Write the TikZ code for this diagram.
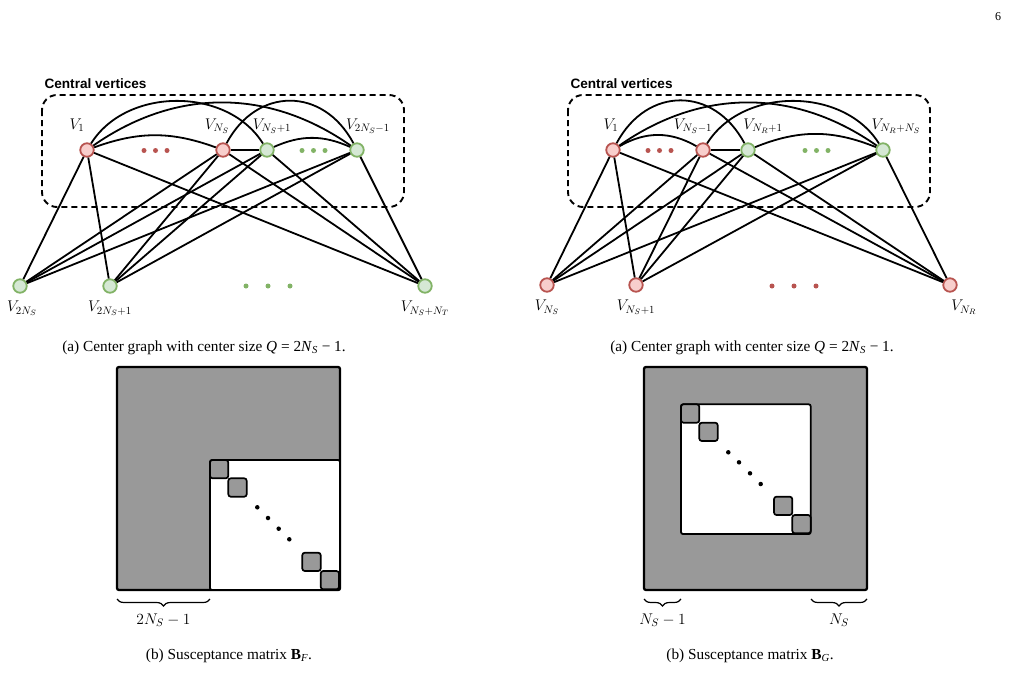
\RequirePackage{fix-cm}
\documentclass[tikz,border=0pt]{standalone}
\usepackage{amsmath}
\usepackage{amssymb}
\usepackage[no-math]{fontspec}
\newfontfamily\capfont{Liberation Serif}
\newfontfamily\boxfont{Liberation Sans}
\usepackage{xcolor}
\usepackage{tikz}
\usetikzlibrary{positioning, decorations.pathreplacing, calc}

\definecolor{redfill}{HTML}{F8CECC}
\definecolor{redline}{HTML}{B85450}
\definecolor{greenfill}{HTML}{D5E8D4}
\definecolor{greenline}{HTML}{82B366}

\begin{document}
\begin{tikzpicture}[
    x=1pt, y=-1pt,
    font=\fontsize{15.5}{18}\selectfont,
    redv/.style={circle, draw=redline, fill=redfill, line width=1.8pt, minimum size=13.5pt, inner sep=0pt},
    greenv/.style={circle, draw=greenline, fill=greenfill, line width=1.8pt, minimum size=13.5pt, inner sep=0pt},
    lab/.style={inner sep=1pt, text height=11pt, text depth=4pt},
    edge/.style={line width=1.8pt},
    reddot/.style={circle, fill=redline, inner sep=0pt, minimum size=5pt},
    greendot/.style={circle, fill=greenline, inner sep=0pt, minimum size=5pt},
    hull/.style={line width=1.9pt, dash pattern=on 6pt off 4pt, rounded corners=15pt},
    hulltitle/.style={font=\boxfont\bfseries\fontsize{13.6}{15}\selectfont},
    matrixbox/.style={draw, line width=2.3pt, fill=black!40, rounded corners=2pt},
    whitebox/.style={draw, line width=1.8pt, fill=white, rounded corners=2pt},
    block/.style={draw, line width=1.7pt, fill=black!40, rounded corners=2.5pt},
    mdot/.style={circle, fill=black, inner sep=0pt, minimum size=4.5pt},
    brace/.style={decorate, decoration={brace, mirror, amplitude=7pt}, line width=1.2pt},
    caption/.style={font=\capfont\fontsize{15.3}{18}\selectfont}
]
\useasboundingbox (0,0) rectangle (1009,672);

\node[font=\capfont\fontsize{12}{14}\selectfont] (page) at (998,17) {6};

% ---------------- Left graph ----------------
\draw[hull] (42,95) rectangle (404,207);
\node[hulltitle, anchor=west] (ltitle) at (41,84) {Central vertices};

% Nodes
\node[redv]   (a1) at (87,150)  {};
\node[redv]   (a2) at (223,150) {};
\node[greenv] (a3) at (267,150) {};
\node[greenv] (a4) at (357,150) {};
\node[greenv] (b1) at (20,286)  {};
\node[greenv] (b2) at (110,286) {};
\node[greenv] (b3) at (425,286) {};

\node[lab, above=8pt of a1, xshift=-10pt] (la1) {$V_1$};
\node[lab, above=8pt of a2, xshift=-6pt]  (la2) {$V_{N_S}$};
\node[lab, above=8pt of a3, xshift=5pt]   (la3) {$V_{N_S+1}$};
\node[lab, above=8pt of a4, xshift=11pt]  (la4) {$V_{2N_S-1}$};
\node[lab, below=6pt of b1, xshift=2pt] (lb1) {$V_{2N_S}$};
\node[lab, below=6pt of b2] (lb2) {$V_{2N_S+1}$};
\node[lab, below=6pt of b3] (lb3) {$V_{N_S+N_T}$};

% dots
\foreach \x in {144,155.5,167} \node[reddot] at (\x,150.5) {};
\foreach \x in {302,313.5,325} \node[greendot] at (\x,150.5) {};
\foreach \x in {246,268,290} \node[greendot] at (\x,286) {};

% Edges among central vertices
\draw[edge] (a1) to[bend left=20] (a2);
\draw[edge] (a1) to[bend left=58] (a3);
\draw[edge] (a1) to[bend left=35] (a4);
\draw[edge] (a2) -- (a3);
\draw[edge] (a2) to[bend left=62, looseness=1.3] (a4);
\draw[edge] (a3) to[bend left=24] (a4);

% Edges to outer vertices
\foreach \b in {b1,b2,b3}
  \foreach \t in {a1,a2,a3,a4}
    \draw[edge] (\b) -- (\t);

% ---------------- Right graph ----------------
\draw[hull] (568,95) rectangle (930,207);
\node[hulltitle, anchor=west] (rtitle) at (567,84) {Central vertices};

\node[redv]   (c1) at (613,150) {};
\node[redv]   (c2) at (703,150) {};
\node[greenv] (c3) at (748,150) {};
\node[greenv] (c4) at (883,150) {};
\node[redv]   (d1) at (547,285) {};
\node[redv]   (d2) at (636,285) {};
\node[redv]   (d3) at (950,285) {};

\node[lab, above=8pt of c1, xshift=-2pt]  (lc1) {$V_1$};
\node[lab, above=8pt of c2, xshift=-10pt] (lc2) {$V_{N_S-1}$};
\node[lab, above=8pt of c3, xshift=15pt]  (lc3) {$V_{N_R+1}$};
\node[lab, above=8pt of c4, xshift=13pt]  (lc4) {$V_{N_R+N_S}$};
\node[lab, below=6pt of d1] (ld1) {$V_{N_S}$};
\node[lab, below=6pt of d2] (ld2) {$V_{N_S+1}$};
\node[lab, below=6pt of d3, xshift=14pt] (ld3) {$V_{N_R}$};

\foreach \x in {648,659.5,671} \node[reddot] at (\x,150.5) {};
\foreach \x in {805,816.5,828} \node[greendot] at (\x,150.5) {};
\foreach \x in {772,794,816} \node[reddot] at (\x,286) {};

\draw[edge] (c1) to[bend left=30] (c2);
\draw[edge] (c1) to[bend left=62, looseness=1.3] (c3);
\draw[edge] (c1) to[bend left=35] (c4);
\draw[edge] (c2) -- (c3);
\draw[edge] (c2) to[bend left=58] (c4);
\draw[edge] (c3) to[bend left=22] (c4);

\foreach \b in {d1,d2,d3}
  \foreach \t in {c1,c2,c3,c4}
    \draw[edge] (\b) -- (\t);

% Captions (a)
\node[caption] (capa1) at (204,348) {(a) Center graph with center size \textit{Q} = 2\textit{N}\textsubscript{\textit{S}} − 1.};
\node[caption] (capa2) at (752,348) {(a) Center graph with center size \textit{Q} = 2\textit{N}\textsubscript{\textit{S}} − 1.};

% ---------------- Left matrix ----------------
\draw[matrixbox] (117,367) rectangle (340,590);
\draw[whitebox] (210,460) rectangle (340,590);
\draw[block] (210,460) rectangle (228.3,478.3);
\draw[block] (228.3,478.3) rectangle (246.7,496.7);
\draw[block] (302.3,552.7) rectangle (320.7,571);
\draw[block] (320.7,571) rectangle (339,589.3);
\foreach \x/\y in {257.3/507.3, 268/518, 278.7/528.7, 289.3/539.3}
  \node[mdot] at (\x,\y) {};
\coordinate (lbl) at (117,599);
\coordinate (lbr) at (210,599);
\draw[brace] (lbl) -- (lbr) node[midway, below=11pt] (lbrace) {$2N_S-1$};

% ---------------- Right matrix ----------------
\draw[matrixbox] (644,367) rectangle (867,590);
\draw[whitebox] (681,404.3) rectangle (810.7,534);
\draw[block] (681,404.3) rectangle (699.3,422.7);
\draw[block] (699.3,422.7) rectangle (717.7,441);
\draw[block] (774,496.7) rectangle (792.3,515);
\draw[block] (792.3,515) rectangle (810.7,533.3);
\foreach \x/\y in {728.3/452.3, 739/462.3, 750/473.3, 760.7/484}
  \node[mdot] at (\x,\y) {};
\coordinate (rbl) at (644,599);
\coordinate (rbm) at (681,599);
\coordinate (rbn) at (811,599);
\coordinate (rbr) at (867,599);
\draw[brace] (rbl) -- (rbm) node[midway, below=11pt] (rbrace1) {$N_S-1$};
\draw[brace] (rbn) -- (rbr) node[midway, below=11pt] (rbrace2) {$N_S$};

% Captions (b)
\node[caption] (capb1) at (229,656) {(b) Susceptance matrix \textbf{B}\textsubscript{\textit{F}}.};
\node[caption] (capb2) at (750,656) {(b) Susceptance matrix \textbf{B}\textsubscript{\textit{G}}.};

\end{tikzpicture}
\end{document}
